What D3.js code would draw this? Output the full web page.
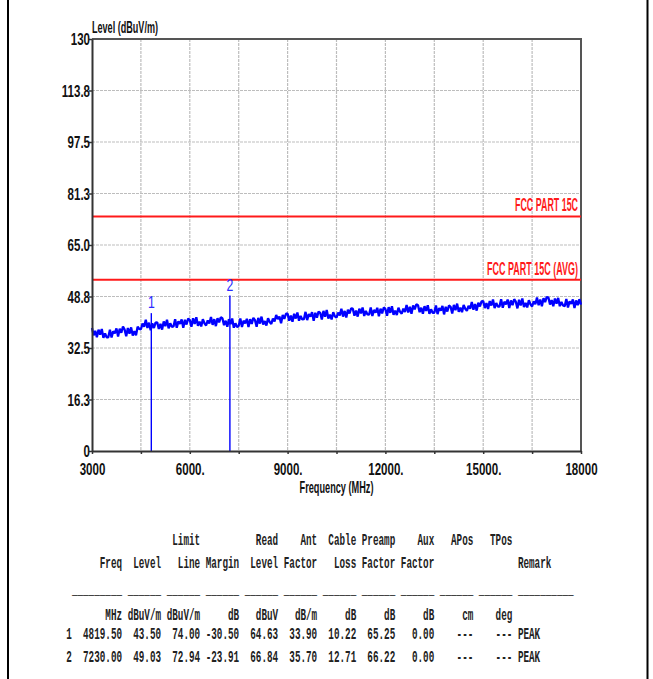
<!DOCTYPE html>
<html>
<head>
<meta charset="utf-8">
<script src="https://cdn.jsdelivr.net/npm/d3@7/dist/d3.min.js"></script>
<style>
  html, body { margin: 0; padding: 0; background: #fff; }
  svg { display: block; }
  .mono { white-space: pre; }
</style>
</head>
<body>
<svg id="chart" width="653" height="679"></svg>
<script>
// ---------------- data ----------------
const yTickValues = [0, 16.25, 32.5, 48.75, 65, 81.25, 97.5, 113.75, 130];
const yTickLabels = ["0", "16.3", "32.5", "48.8", "65.0", "81.3", "97.5", "113.8", "130"];
const xTickValues = [3000, 4500, 6000, 7500, 9000, 10500, 12000, 13500, 15000, 16500, 18000];
const xLabelValues = [3000, 6000, 9000, 12000, 15000, 18000];
const xLabelTexts = ["3000", "6000.", "9000.", "12000.", "15000.", "18000"];

const limitNames = ["FCC PART 15C", "FCC PART 15C (AVG)"];
const limitLevels = [74, 54];

const markerIds = ["1", "2"];
const markerFreqs = [4819.5, 7230];
const markerLevels = [43.5, 49.03];

const traceStartMHz = 3000;
const traceStepMHz = 50;
const traceLevels = [
  38.8,36.5,37.9,35.9,38.3,36.7,38.5,35.7,37.1,35.9,
  35.9,38.3,35.8,37.8,37.1,38.7,36.1,38.6,37.3,39.3,
  38.3,36.2,38.8,37.0,39.0,36.4,37.8,36.5,39.2,38.5,
  38.4,40.2,39.2,41.4,38.8,40.5,38.1,40.3,38.8,40.5,
  40.6,38.5,40.1,38.3,40.9,39.4,41.4,38.7,40.3,39.2,
  39.3,41.6,38.9,40.9,40.1,41.5,38.9,41.4,39.9,41.8,
  41.3,39.2,41.9,40.1,42.2,39.5,40.8,39.3,41.6,40.3,
  39.6,41.2,40.2,42.3,39.8,41.6,39.4,41.9,40.6,42.2,
  41.9,39.7,41.1,39.2,41.6,40.0,41.8,38.9,40.3,39.1,
  39.5,41.8,39.1,41.1,40.3,41.7,39.1,41.6,40.1,42.0,
  41.3,39.2,42.0,40.2,42.4,39.9,41.0,39.6,41.9,40.7,
  40.1,41.8,40.9,42.9,41.6,42.4,40.3,42.9,41.7,43.3,
  43.3,41.1,42.7,40.8,43.3,41.8,43.7,41.1,42.6,41.5,
  41.6,43.9,41.3,43.2,42.4,43.8,41.1,43.6,42.1,44.0,
  43.6,41.5,44.2,42.4,44.5,41.8,43.0,41.5,43.8,42.5,
  42.1,43.7,42.8,44.9,42.4,44.2,42.1,44.6,43.4,45.0,
  44.9,42.7,44.3,42.4,44.9,43.4,45.3,42.6,44.2,43.1,
  43.0,45.3,42.6,44.5,43.7,45.2,42.5,44.9,43.4,45.3,
  44.8,42.7,45.4,43.6,45.7,43.0,44.3,42.9,45.2,43.9,
  43.3,44.9,43.9,46.1,43.7,45.5,43.3,45.9,44.7,46.3,
  46.0,43.8,45.2,43.3,45.7,44.2,46.0,43.3,44.7,43.6,
  43.6,45.9,43.2,45.1,44.3,45.8,43.1,45.5,44.0,45.9,
  45.5,43.4,46.1,44.4,46.5,43.9,45.2,43.8,46.1,44.9,
  44.2,45.8,44.9,47.0,44.6,46.4,44.3,46.8,45.6,47.2,
  47.3,45.1,46.7,44.8,47.3,45.9,47.8,45.1,46.7,45.6,
  45.6,47.9,45.2,47.1,46.3,47.8,45.1,47.5,46.0,47.9,
  47.1,45.0,47.7,45.9,48.1,45.4,46.7,45.3,47.6,46.3,
  45.6,47.2,46.3,48.4,46.0,47.8,45.7,48.2,47.0,48.6,
  48.4,46.2,47.6,45.7,48.1,46.5,48.3,45.7,47.0,45.9,
  45.7,48.0,45.3,47.2,46.4,47.8,45.1,47.5,46.0,47.9,46.2
];

const tableHeader1 = ["", "", "", "Limit", "", "Read", "Ant", "Cable", "Preamp", "Aux", "APos", "TPos", ""];
const tableHeader2 = ["", "Freq", "Level", "Line", "Margin", "Level", "Factor", "Loss", "Factor", "Factor", "", "", "Remark"];
const tableRule    = ["", "_________", "______", "______", "______", "______", "______", "______", "______", "______", "______", "______", "__________"];
const tableUnits   = ["", "MHz", "dBuV/m", "dBuV/m", "dB", "dBuV", "dB/m", "dB", "dB", "dB", "cm", "deg", ""];
const tableRows = [
  ["1", "4819.50", "43.50", "74.00", "-30.50", "64.63", "33.90", "10.22", "65.25", "0.00", "---", "---", "PEAK"],
  ["2", "7230.00", "49.03", "72.94", "-23.91", "66.84", "35.70", "12.71", "66.22", "0.00", "---", "---", "PEAK"]
];

// ---------------- layout ----------------
const svg = d3.select("#chart");
const plot = { left: 92, right: 581, top: 39, bottom: 451 };
const x = d3.scaleLinear().domain([3000, 18000]).range([plot.left, plot.right]);
const y = d3.scaleLinear().domain([0, 130]).range([plot.bottom, plot.top]);
const chartFont = "'Liberation Sans Narrow', 'Arial Narrow', 'Liberation Sans', Arial, sans-serif";
const sx = 0.72;

// squeeze a text horizontally so that it spans `w` pixels, anchored at (x0, y0)
function placeFitted(sel, x0, y0, w, anchor) {
  const len = sel.node().getComputedTextLength();
  const s = len > 0 ? w / len : 1;
  sel.attr("text-anchor", anchor || "start")
     .attr("transform", `translate(${x0},${y0}) scale(${s},1)`);
}

// outer frame (left/right rules)
svg.append("line").attr("x1", 8).attr("x2", 8).attr("y1", 0).attr("y2", 679)
  .attr("stroke", "#000").attr("stroke-width", 2);
svg.append("line").attr("x1", 647.5).attr("x2", 647.5).attr("y1", 0).attr("y2", 679)
  .attr("stroke", "#000").attr("stroke-width", 2);

// grid
const grid = svg.append("g");
grid.selectAll("line.v").data(xTickValues.slice(1, -1)).join("line")
  .attr("x1", d => x(d)).attr("x2", d => x(d)).attr("y1", plot.top).attr("y2", plot.bottom)
  .attr("stroke", "#bdbdbd").attr("stroke-width", 1.2).attr("stroke-dasharray", "3,1");
grid.selectAll("line.h").data(yTickValues.slice(1, -1)).join("line")
  .attr("x1", plot.left).attr("x2", plot.right).attr("y1", d => y(d)).attr("y2", d => y(d))
  .attr("stroke", "#bdbdbd").attr("stroke-width", 1.2).attr("stroke-dasharray", "3,1");

// top/right border
svg.append("path")
  .attr("d", `M${plot.left},${plot.top}H${plot.right}V${plot.bottom}`)
  .attr("fill", "none").attr("stroke", "#555").attr("stroke-width", 2);

// limit lines
limitLevels.forEach((lv, i) => {
  svg.append("line").attr("x1", plot.left).attr("x2", plot.right)
    .attr("y1", y(lv)).attr("y2", y(lv))
    .attr("stroke", "#ff1a1a").attr("stroke-width", 2);
});
const limitLabelWidths = [63, 91];
limitNames.forEach((name, i) => {
  const t = svg.append("text")
    .attr("font-family", chartFont).attr("font-size", 19).attr("font-weight", "bold")
    .attr("fill", "#ff1a1a")
    .text(name);
  placeFitted(t, plot.right - 3, y(limitLevels[i]) - 5, limitLabelWidths[i], "end");
});

// trace
const traceData = traceLevels.map((v, i) => [traceStartMHz + i * traceStepMHz, v]);
svg.append("path").datum(traceData)
  .attr("d", d3.line().x(d => x(d[0])).y(d => y(d[1])))
  .attr("fill", "none").attr("stroke", "#0000ff").attr("stroke-width", 2.3)
  .attr("stroke-linejoin", "bevel");

// markers
markerFreqs.forEach((f, i) => {
  svg.append("line").attr("x1", x(f)).attr("x2", x(f))
    .attr("y1", y(0)).attr("y2", y(markerLevels[i]))
    .attr("stroke", "#0000ff").attr("stroke-width", 1.4);
  svg.append("text")
    .attr("transform", `translate(${x(f)},${y(markerLevels[i]) - 5}) scale(${sx},1)`)
    .attr("text-anchor", "middle")
    .attr("font-family", chartFont).attr("font-size", 17).attr("fill", "#2b2bff")
    .text(markerIds[i]);
});

// axes
const labelMap = new Map(xLabelValues.map((v, i) => [v, xLabelTexts[i]]));
const xAxis = d3.axisBottom(x).tickValues(xTickValues)
  .tickFormat(d => labelMap.has(d) ? labelMap.get(d) : "").tickSize(3).tickSizeOuter(0);
const gx = svg.append("g").attr("transform", `translate(0,${plot.bottom})`).call(xAxis);
gx.select(".domain").attr("stroke", "#333").attr("stroke-width", 2);
gx.selectAll(".tick line").attr("stroke", "#333").attr("stroke-width", 1.5);
gx.selectAll(".tick text")
  .attr("y", 24).attr("dy", 0)
  .attr("transform", `scale(${sx - 0.04},1)`)
  .attr("font-family", chartFont).attr("font-size", 17).attr("font-weight", "bold")
  .attr("fill", "#111");

const yAxis = d3.axisLeft(y).tickValues(yTickValues)
  .tickFormat((d, i) => yTickLabels[i]).tickSize(3).tickSizeOuter(0);
const gy = svg.append("g").attr("transform", `translate(${plot.left},0)`).call(yAxis);
gy.select(".domain").attr("stroke", "#333").attr("stroke-width", 2);
gy.selectAll(".tick line").attr("stroke", "#333").attr("stroke-width", 1.5);
gy.selectAll(".tick text")
  .attr("x", -2 / sx).attr("dy", "0.36em")
  .attr("transform", `scale(${sx},1)`)
  .attr("font-family", chartFont).attr("font-size", 16).attr("font-weight", "bold")
  .attr("fill", "#111");

// axis titles
const yTitle = svg.append("text")
  .attr("font-family", chartFont).attr("font-size", 16).attr("font-weight", "bold")
  .attr("fill", "#111").text("Level (dBuV/m)");
placeFitted(yTitle, plot.left, 33, 66, "start");
const xTitle = svg.append("text")
  .attr("font-family", chartFont).attr("font-size", 16).attr("font-weight", "bold")
  .attr("fill", "#111").text("Frequency (MHz)");
placeFitted(xTitle, (plot.left + plot.right) / 2, 493, 74, "middle");

// table (fixed-pitch report): monospace advance is 0.6em
const charW = 5.577;
const tableX = 66.3;
const monoSize = 16;
const monoScale = charW / (0.6 * monoSize);
function fmtLine(fields) {
  let s = fields[0].padEnd(1, " ");
  s += fields[1].padStart(9, " ");
  for (let k = 2; k <= 11; k++) s += fields[k].padStart(7, " ");
  if (fields[12]) s += " " + fields[12];
  return s.replace(/\s+$/, "");
}
const tableLines = [
  { f: tableHeader1, y: 545 },
  { f: tableHeader2, y: 568 },
  { f: tableRule, y: 594 },
  { f: tableUnits, y: 620 },
  { f: tableRows[0], y: 639 },
  { f: tableRows[1], y: 662 }
];
tableLines.forEach(l => {
  svg.append("text").attr("class", "mono")
    .attr("transform", `translate(${tableX},${l.y}) scale(${monoScale},1)`)
    .attr("font-family", "'Liberation Mono', 'DejaVu Sans Mono', monospace")
    .attr("font-size", monoSize).attr("font-weight", "bold").attr("fill", "#222")
    .text(fmtLine(l.f));
});
</script>
</body>
</html>
